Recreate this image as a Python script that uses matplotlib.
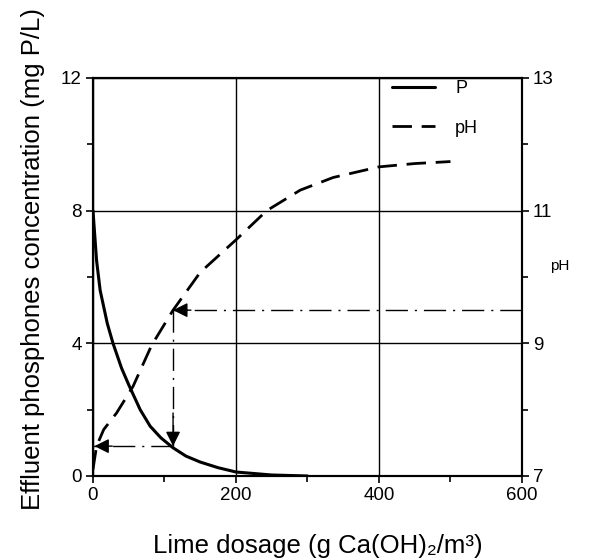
import numpy as np
import matplotlib.pyplot as plt

plt.rcParams['font.family'] = ['Liberation Sans', 'DejaVu Sans']

# Effluent phosphonate (left axis, mg P/L) vs lime dose
dose_p = [0, 5, 10, 20, 28, 40, 50, 66, 80, 95, 112, 130, 150, 175, 200, 250, 300]
conc_p = [8.0, 6.5, 5.6, 4.6, 4.0, 3.25, 2.75, 2.0, 1.5, 1.15, 0.85, 0.6, 0.42, 0.25, 0.12, 0.03, 0.0]

# pH (right axis) vs lime dose
dose_ph = [0, 5, 15, 33, 56, 82, 112, 150, 200, 243, 290, 336, 400, 450, 500]
ph_vals = [7.1, 7.45, 7.7, 7.95, 8.35, 8.97, 9.5, 10.07, 10.56, 11.0, 11.31, 11.5, 11.66, 11.71, 11.74]

# read-off construction: target pH -> lime dose -> residual P
target_ph = 9.5
dose_target = 112
p_residual = 0.9
ph_at_start = 0

fig = plt.figure(figsize=(5.9, 5.59), dpi=100)
ax = fig.add_axes([0.1576, 0.1485, 0.7271, 0.712])
ax2 = ax.twinx()

ax.set_xlim(0, 600)
ax.set_ylim(0, 12)
ax2.set_ylim(7, 13)

ax.set_xticks([0, 200, 400, 600])
ax.set_xticks([100, 300, 500], minor=True)
ax.set_yticks([0, 4, 8, 12])
ax.set_yticks([2, 6, 10], minor=True)
ax2.set_yticks([7, 9, 11, 13])
ax2.set_yticks([8, 10, 12], minor=True)

for a in (ax, ax2):
    a.tick_params(which='major', direction='out', length=5, width=1.2, labelsize=13.5, pad=3)
    a.tick_params(which='minor', direction='out', length=4, width=1.2)
    for s in a.spines.values():
        s.set_linewidth(1.5)

ax.grid(True, which='major', color='k', lw=1.0)
ax.set_axisbelow(True)

l1, = ax.plot(dose_p, conc_p, color='k', lw=2.2, label='P', solid_capstyle='round')
l2, = ax2.plot(dose_ph, ph_vals, color='k', lw=2.0, dashes=(7, 3.5), label='pH')

# convert pH to left axis units
def ph_to_left(v):
    return (v - 7) / (13 - 7) * 12

y_top = ph_to_left(target_ph)
dd = dict(color='k', lw=1.0, dashes=(16, 5, 1.5, 5))
ax.plot([600, dose_target], [y_top, y_top], **dd)
ax.plot([dose_target, dose_target], [y_top, p_residual], **dd)
ax.plot([dose_target, ph_at_start], [p_residual, p_residual], **dd)

ap = dict(arrowstyle='-|>', mutation_scale=22, color='k', lw=1, shrinkA=0, shrinkB=0)
ax.annotate('', xy=(dose_target, y_top), xytext=(dose_target + 25, y_top), arrowprops=ap)
ax.annotate('', xy=(dose_target, p_residual), xytext=(dose_target, p_residual + 1), arrowprops=ap)
ax.annotate('', xy=(ph_at_start + 2, p_residual), xytext=(ph_at_start + 27, p_residual), arrowprops=ap)

ax.set_xlabel('Lime dosage (g Ca(OH)\u2082/m\u00b3)', fontsize=18.5)
ax.set_ylabel('Effluent phosphones concentration (mg P/L)', fontsize=18.5)
ax.xaxis.set_label_coords(0.524, -0.193)
ax.xaxis.label.set_va('baseline')
ax.yaxis.set_label_coords(-0.112, 0.545)
fig.text(0.949, 1 - 266 / 559, 'pH', fontsize=11, ha='center', va='center')

fig.legend(handles=[l1, l2], loc='upper left', bbox_to_anchor=(392 / 590, 1 - 80 / 559),
           frameon=False, fontsize=13, handlelength=2.4, handletextpad=1.1,
           labelspacing=1.25, borderpad=0, borderaxespad=0)

fig.savefig('out.png', dpi=100)
